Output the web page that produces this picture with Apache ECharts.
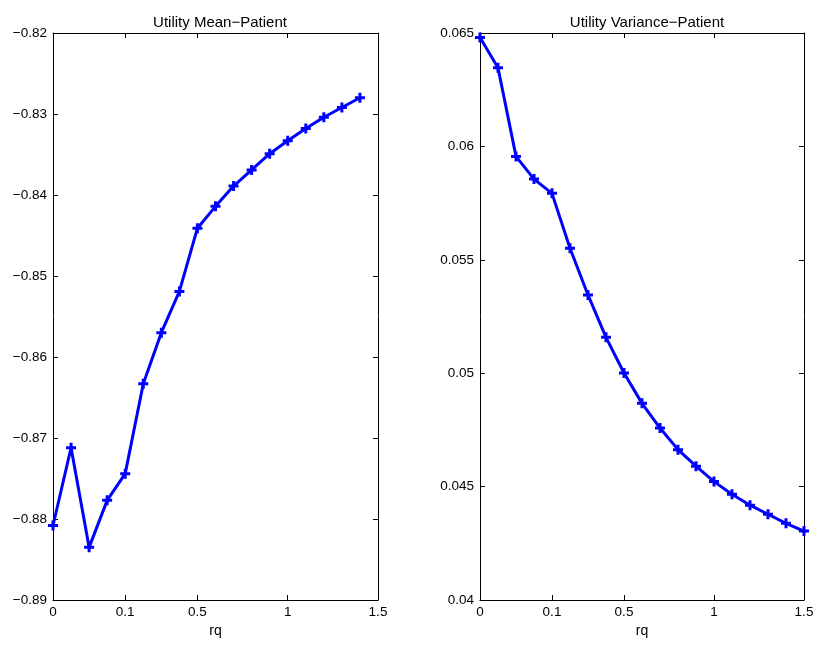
<!DOCTYPE html>
<html>
<head>
<meta charset="utf-8">
<script src="https://cdn.jsdelivr.net/npm/echarts@6/dist/echarts.min.js"></script>
<style>html,body{margin:0;padding:0;background:#fff;}#c{width:818px;height:645px;}</style>
</head>
<body>
<div id="c"></div>
<script>
// x categories (rq)
var rq = [0, 0.025, 0.05, 0.075, 0.1, 0.2, 0.3, 0.4, 0.5, 0.6, 0.7, 0.8, 0.9, 1, 1.1, 1.2, 1.3, 1.4, 1.5];
var xTickIdx = [0, 4, 8, 13, 18];
// Utility mean (18 points, rq 0..1.4)
var meanVals = [-0.8808, -0.8712, -0.8835, -0.8777, -0.8744, -0.8633, -0.8570, -0.8519, -0.8441, -0.8414,
  -0.8389, -0.8369, -0.8349, -0.8333, -0.8318, -0.8304, -0.8292, -0.8280];
// Utility variance (19 points, rq 0..1.5)
var varVals = [0.0648, 0.06347, 0.05956, 0.05856, 0.05793, 0.05551, 0.05345, 0.05158, 0.05001, 0.04867,
  0.04758, 0.04663, 0.0459, 0.04522, 0.04466, 0.04418, 0.04378, 0.04338, 0.04304];
var titles = ['Utility Mean\u2212Patient', 'Utility Variance\u2212Patient'];
var xName = 'rq';

var font = 'Liberation Sans, Arial, Helvetica, sans-serif';
var plus = 'path://M-1.5,-5 L1.5,-5 L1.5,-1.5 L5,-1.5 L5,1.5 L1.5,1.5 L1.5,5 L-1.5,5 L-1.5,1.5 L-5,1.5 L-5,-1.5 L-1.5,-1.5 Z';
function showIdx(i) { return xTickIdx.indexOf(i) >= 0; }
var lineStyle = {color: '#000', width: 1};

function xAxes(grid) {
  return [
    {type: 'category', gridIndex: grid, data: rq, boundaryGap: false, position: 'bottom',
     name: xName, nameLocation: 'middle', nameGap: 24,
     nameTextStyle: {color: '#000', fontSize: 14, fontFamily: font},
     axisLine: {lineStyle: lineStyle},
     axisTick: {inside: true, length: 5, interval: showIdx, lineStyle: lineStyle},
     axisLabel: {interval: showIdx, color: '#000', fontSize: 13.5, fontFamily: font, margin: 5},
     splitLine: {show: false}},
    {type: 'category', gridIndex: grid, data: rq, boundaryGap: false, position: 'top',
     axisLine: {lineStyle: lineStyle},
     axisTick: {inside: true, length: 5, interval: showIdx, lineStyle: lineStyle},
     axisLabel: {show: false}, splitLine: {show: false}}
  ];
}
function yAxes(grid, min, max, step, fmt) {
  var common = {type: 'value', gridIndex: grid, min: min, max: max, interval: step, scale: true,
    axisLine: {show: true, lineStyle: lineStyle},
    axisTick: {show: true, inside: true, length: 5, lineStyle: lineStyle},
    splitLine: {show: false}};
  var left = Object.assign({}, common, {position: 'left',
    axisLabel: {color: '#000', fontSize: 13.5, fontFamily: font, margin: 6, formatter: fmt}});
  var right = Object.assign({}, common, {position: 'right', axisLabel: {show: false}});
  return [left, right];
}

var chart = echarts.init(document.getElementById('c'), null, {renderer: 'canvas'});
var option = {
  backgroundColor: '#fff',
  animation: false,
  title: [
    {text: titles[0], left: 215, top: 10, textAlign: 'center',
     textStyle: {color: '#000', fontSize: 15, fontWeight: 'normal', fontFamily: font}},
    {text: titles[1], left: 642, top: 10, textAlign: 'center',
     textStyle: {color: '#000', fontSize: 15, fontWeight: 'normal', fontFamily: font}}
  ],
  grid: [
    {left: 53, top: 33, width: 325, height: 567},
    {left: 480, top: 33, width: 324, height: 567}
  ],
  xAxis: xAxes(0).concat(xAxes(1)),
  yAxis: yAxes(0, -0.89, -0.82, 0.01, function (v) { return v.toFixed(2).replace('-', '\u2212'); })
    .concat(yAxes(1, 0.04, 0.065, 0.005, function (v) { return String(parseFloat(v.toFixed(3))); })),
  series: [
    {type: 'line', xAxisIndex: 0, yAxisIndex: 0, data: meanVals, symbol: plus, symbolSize: 10,
     lineStyle: {color: '#0000ff', width: 3}, itemStyle: {color: '#0000ff'}, clip: false},
    {type: 'line', xAxisIndex: 2, yAxisIndex: 2, data: varVals, symbol: plus, symbolSize: 10,
     lineStyle: {color: '#0000ff', width: 3}, itemStyle: {color: '#0000ff'}, clip: false}
  ]
};
chart.setOption(option);
</script>
</body>
</html>
